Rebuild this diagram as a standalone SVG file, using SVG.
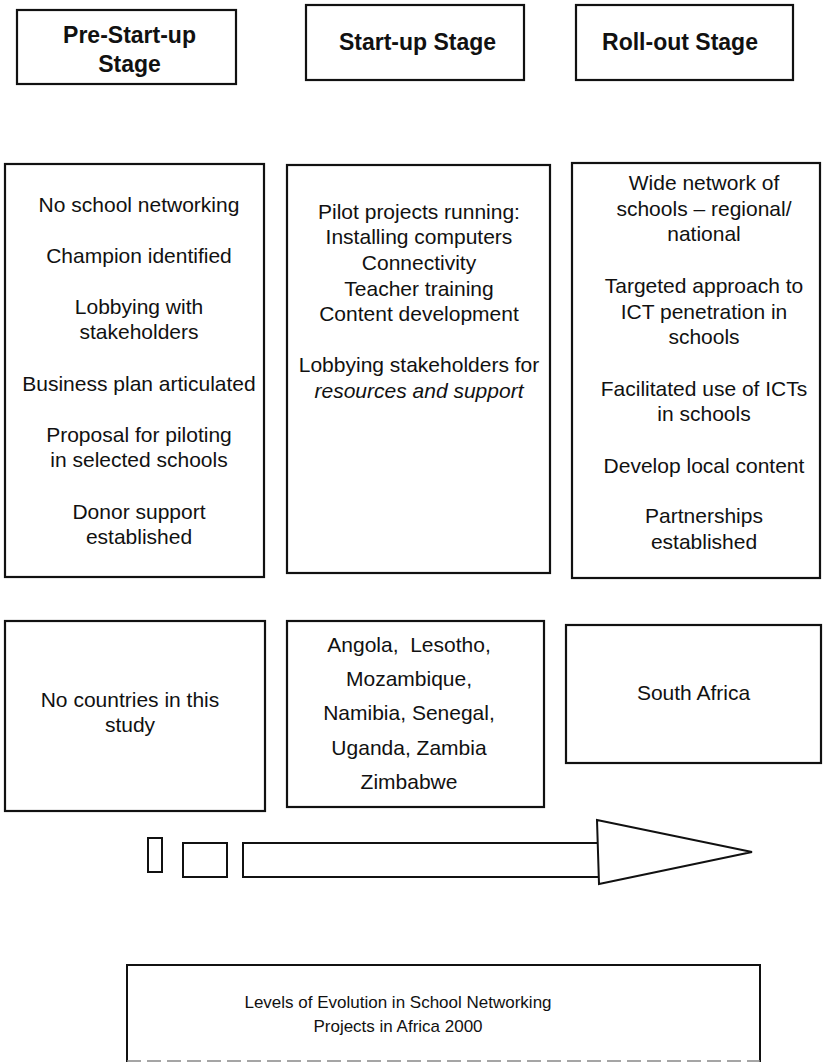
<svg xmlns="http://www.w3.org/2000/svg" width="823" height="1064" viewBox="0 0 823 1064">
  <style>
    .box { fill: #ffffff; stroke: #111111; stroke-width: 2.2; }
    .thin { fill: #ffffff; stroke: #111111; stroke-width: 2; }
    .faint { fill: none; stroke: #888888; stroke-width: 1.5; stroke-dasharray: 14 6; }
    .head { font-family: "Liberation Sans", Arial, sans-serif; font-size: 23px; font-weight: bold; fill: #111111; text-anchor: middle; }
    .body { font-family: "Liberation Sans", Arial, sans-serif; font-size: 21px; fill: #111111; text-anchor: middle; }
    .cap { font-family: "Liberation Sans", Arial, sans-serif; font-size: 17px; fill: #111111; text-anchor: middle; }
  </style>
  <rect width="823" height="1064" fill="#ffffff"/>

  <!-- stage headers -->
  <g id="stage-prestartup">
    <rect class="box" x="17" y="10" width="219" height="74"/>
    <text class="head" x="129.5" y="43">Pre-Start-up</text>
    <text class="head" x="129.5" y="72">Stage</text>
  </g>
  <g id="stage-startup">
    <rect class="box" x="306" y="5" width="218" height="75"/>
    <text class="head" x="417.5" y="50">Start-up Stage</text>
  </g>
  <g id="stage-rollout">
    <rect class="box" x="576" y="5" width="217" height="75"/>
    <text class="head" x="680" y="50">Roll-out Stage</text>
  </g>

  <!-- characteristics of each stage -->
  <g id="traits-prestartup">
    <rect class="box" x="5" y="164" width="259" height="413"/>
    <text class="body" x="139" y="212">No school networking</text>
    <text class="body" x="139" y="263">Champion identified</text>
    <text class="body" x="139" y="314">Lobbying with</text>
    <text class="body" x="139" y="339">stakeholders</text>
    <text class="body" x="139" y="391">Business plan articulated</text>
    <text class="body" x="139" y="442">Proposal for piloting</text>
    <text class="body" x="139" y="467">in selected schools</text>
    <text class="body" x="139" y="519">Donor support</text>
    <text class="body" x="139" y="544">established</text>
  </g>
  <g id="traits-startup">
    <rect class="box" x="287" y="165" width="263" height="408"/>
    <text class="body" x="419" y="219">Pilot projects running:</text>
    <text class="body" x="419" y="244">Installing computers</text>
    <text class="body" x="419" y="270">Connectivity</text>
    <text class="body" x="419" y="296">Teacher training</text>
    <text class="body" x="419" y="321">Content development</text>
    <text class="body" x="419" y="372">Lobbying stakeholders for</text>
    <text class="body" x="419" y="398" font-style="italic">resources and support</text>
  </g>
  <g id="traits-rollout">
    <rect class="box" x="572" y="163" width="248" height="415"/>
    <text class="body" x="704" y="190">Wide network of</text>
    <text class="body" x="704" y="216">schools – regional/</text>
    <text class="body" x="704" y="241">national</text>
    <text class="body" x="704" y="293">Targeted approach to</text>
    <text class="body" x="704" y="319">ICT penetration in</text>
    <text class="body" x="704" y="344">schools</text>
    <text class="body" x="704" y="396">Facilitated use of ICTs</text>
    <text class="body" x="704" y="421">in schools</text>
    <text class="body" x="704" y="473">Develop local content</text>
    <text class="body" x="704" y="523">Partnerships</text>
    <text class="body" x="704" y="549">established</text>
  </g>

  <!-- countries at each stage -->
  <g id="countries-prestartup">
    <rect class="box" x="5" y="621" width="260" height="190"/>
    <text class="body" x="130" y="707">No countries in this</text>
    <text class="body" x="130" y="732">study</text>
  </g>
  <g id="countries-startup">
    <rect class="box" x="287" y="621" width="257" height="186"/>
    <text class="body" x="409" y="652" xml:space="preserve">Angola,  Lesotho,</text>
    <text class="body" x="409" y="686">Mozambique,</text>
    <text class="body" x="409" y="720">Namibia, Senegal,</text>
    <text class="body" x="409" y="755">Uganda, Zambia</text>
    <text class="body" x="409" y="789">Zimbabwe</text>
  </g>
  <g id="countries-rollout">
    <rect class="box" x="566" y="625" width="255" height="138"/>
    <text class="body" x="693.5" y="700">South Africa</text>
  </g>

  <!-- growth arrow -->
  <g id="connectors">
    <rect class="thin" x="148" y="838" width="14" height="34"/>
    <rect class="thin" x="183" y="843" width="44" height="34"/>
    <rect class="thin" x="243" y="843" width="357" height="34"/>
    <polygon class="thin" fill="none" points="597,820 752,852 599,884"/>
  </g>

  <!-- caption: three solid sides, faint dashed lower edge -->
  <g id="caption">
    <path class="thin" fill="none" d="M127,1062 V965 H760 V1062"/>
    <line class="faint" x1="127" y1="1061" x2="760" y2="1061"/>
    <text class="cap" x="398" y="1008">Levels of Evolution in School Networking</text>
    <text class="cap" x="398" y="1032">Projects in Africa 2000</text>
  </g>
</svg>
